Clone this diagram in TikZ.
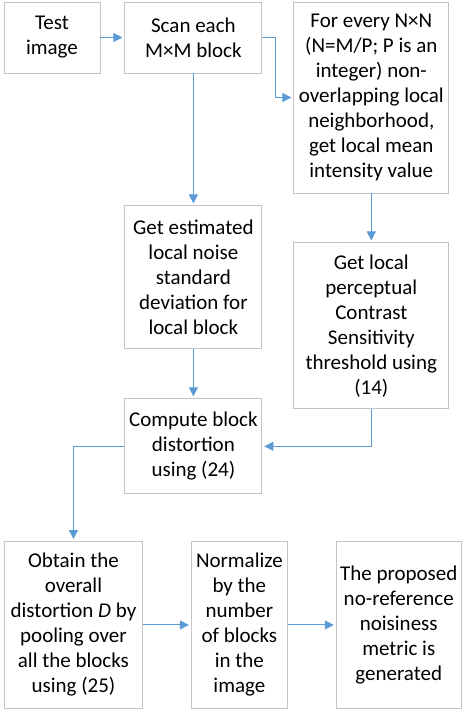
\documentclass[tikz,border=0pt]{standalone}
\usepackage{fontspec}
\setmainfont{Carlito}
\usepackage{tikz}
\usetikzlibrary{arrows.meta,positioning}

\definecolor{boxgray}{RGB}{196,196,196}
\definecolor{flowblue}{RGB}{91,155,213}

\tikzset{
    stage/.style={draw=boxgray, line width=0.9pt, align=center,
                  inner sep=2pt, font=\fontsize{21}{25}\selectfont},
    flow/.style={-{Triangle[length=9pt,width=9pt]}, draw=flowblue,
                 line width=1pt, shorten >=2pt}
}

\begin{document}
\begin{tikzpicture}[x=1pt,
            y=1pt,
            node distance=24pt]

        \useasboundingbox (0,0) rectangle (463,-712);

        \node[stage, minimum width=96pt,  minimum height=71pt]  (test)  at (52,-37.5) {Test\\image};
        \node[stage, minimum width=137pt, minimum height=71pt]  (scan)  [right=24pt of test] {Scan each\\M×M block};
        \node[stage, minimum width=155pt, minimum height=191pt] (every) [right=31pt of scan.north east, anchor=north west]
            {For every N×N\\(N=M/P; P is an\\integer) non-\\overlapping local\\neighborhood,\\get local mean\\intensity value};
        \node[stage, minimum width=137pt, minimum height=143pt] (noise) [below=132pt of scan]
            {Get estimated\\local noise\\standard\\deviation for\\local block};
        \node[stage, minimum width=155pt, minimum height=166pt] (csthr) [below=49pt of every]
            {Get local\\perceptual\\Contrast\\Sensitivity\\threshold using\\(14)};
        \node[stage, minimum width=137pt, minimum height=95pt]  (dist)  [below=49pt of noise]
            {Compute block\\distortion\\using (24)};
        \node[stage, minimum width=138pt, minimum height=167pt, anchor=north west] (pool) at (4,-541)
            {Obtain the\\overall\\distortion \textit{D} by\\pooling over\\all the blocks\\using (25)};
        \node[stage, minimum width=96pt,  minimum height=167pt] (norm)  [right=48pt of pool]
            {Normalize\\by the\\number\\of blocks\\in the\\image};
        \node[stage, minimum width=125pt, minimum height=167pt] (metric) [right=48pt of norm]
            {The proposed\\no-reference\\noisiness\\metric is\\generated};

        \draw[flow] (test) -- (scan);
        \draw[flow] (scan) -- (noise);
        \draw[flow] (every) -- (csthr);
        \draw[flow] (noise) -- (dist);
        \draw[flow] (pool) -- (norm);
        \draw[flow] (norm) -- (metric);
        \draw[flow] (scan.east) -- ++(13,0) |- (every);
        \draw[flow] (csthr) |- (dist);
        \draw[flow] (dist) -| (pool);

\end{tikzpicture}
\end{document}
